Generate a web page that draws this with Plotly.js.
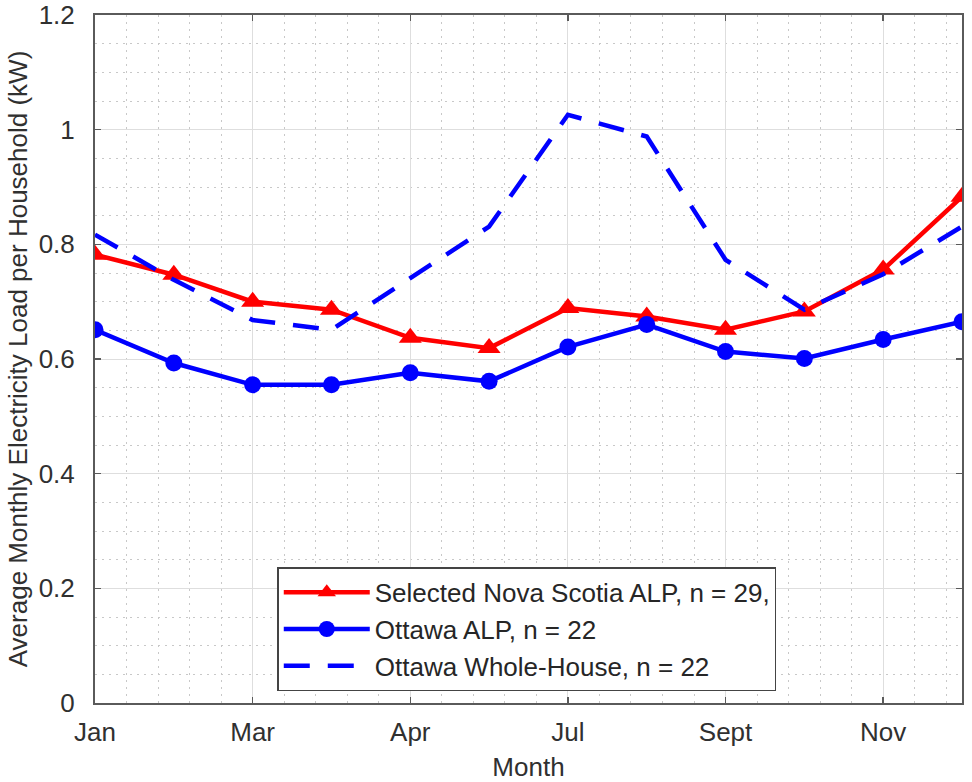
<!DOCTYPE html>
<html>
<head>
<meta charset="utf-8">
<script src="https://cdn.plot.ly/plotly-3.0.1.min.js"></script>
<style>html,body{margin:0;padding:0;background:#fff;}#chart{width:972px;height:782px;}</style>
</head>
<body>
<div id="chart"></div>
<script>
const months = [1,2,3,4,5,6,7,8,9,10,11,12];
const tickPositions = [1,3,5,7,9,11];
const tickLabels = ["Jan","Mar","Apr","Jul","Sept","Nov"];
const yTickValues = [0,0.2,0.4,0.6,0.8,1,1.2];
const yTickLabels = ["0","0.2","0.4","0.6","0.8","1","1.2"];
const novaScotiaALP = [0.782,0.747,0.700,0.686,0.637,0.619,0.689,0.674,0.651,0.683,0.756,0.883];
const ottawaALP = [0.651,0.593,0.555,0.555,0.576,0.561,0.621,0.660,0.613,0.601,0.634,0.665];
const ottawaWholeHouse = [0.817,0.738,0.668,0.651,0.741,0.831,1.026,0.988,0.773,0.686,0.748,0.831];
const seriesNames = ["Selected Nova Scotia ALP, n = 29,","Ottawa ALP, n = 22","Ottawa Whole-House, n = 22"];

const traces = [
  {x: months, y: novaScotiaALP, name: seriesNames[0], mode: 'lines+markers',
   line: {color: '#ff0000', width: 4.5}, marker: {symbol: 'triangle-up', size: 20, color: '#ff0000'}},
  {x: months, y: ottawaALP, name: seriesNames[1], mode: 'lines+markers',
   line: {color: '#0000ff', width: 4.5}, marker: {symbol: 'circle', size: 17, color: '#0000ff'}},
  {x: months, y: ottawaWholeHouse, name: seriesNames[2], mode: 'lines',
   line: {color: '#0000ff', width: 4.5, dash: '26px,18px'}}
];
const baseFont = {family: 'Liberation Sans, Arial, sans-serif', size: 26, color: '#303030'};
const layout = {
  width: 972, height: 782,
  margin: {l: 95, r: 10, t: 15, b: 79},
  paper_bgcolor: '#fff', plot_bgcolor: '#fff',
  font: baseFont,
  showlegend: true,
  legend: {x: 0.498, y: 0.017, xanchor: 'center', yanchor: 'bottom', bgcolor: '#fff',
           bordercolor: '#444', borderwidth: 1.5, font: {family: baseFont.family, size: 26, color: '#262626'},
           itemwidth: 86},
  xaxis: {range: [1, 12], tickmode: 'array', tickvals: tickPositions, ticktext: tickLabels,
          showline: true, linecolor: '#5a5a5a', linewidth: 2, mirror: 'ticks',
          ticks: 'inside', ticklen: 6, tickcolor: '#5a5a5a', tickwidth: 1.5,
          showgrid: true, gridcolor: '#dedede', gridwidth: 1, zeroline: false,
          ticklabelstandoff: 5,
          minor: {tickmode: 'linear', tick0: 1, dtick: 0.4, showgrid: true, gridcolor: '#c8c8c8', griddash: '2px,5px', gridwidth: 1},
          title: {text: 'Month', font: baseFont, standoff: 13},
          tickfont: baseFont},
  yaxis: {range: [0, 1.2], tickmode: 'array', tickvals: yTickValues, ticktext: yTickLabels,
          showline: true, linecolor: '#5a5a5a', linewidth: 2, mirror: 'ticks',
          ticks: 'inside', ticklen: 6, tickcolor: '#5a5a5a', tickwidth: 1.5,
          showgrid: true, gridcolor: '#dedede', gridwidth: 1, zeroline: false,
          ticklabelstandoff: 13,
          minor: {tickmode: 'linear', tick0: 0, dtick: 0.05, showgrid: true, gridcolor: '#c8c8c8', griddash: '2px,5px', gridwidth: 1},
          title: {text: 'Average Monthly Electricity Load per Household (kW)', font: baseFont, standoff: 4},
          tickfont: baseFont}
};
Plotly.newPlot('chart', traces, layout, {displayModeBar: false, staticPlot: true});
</script>
</body>
</html>
